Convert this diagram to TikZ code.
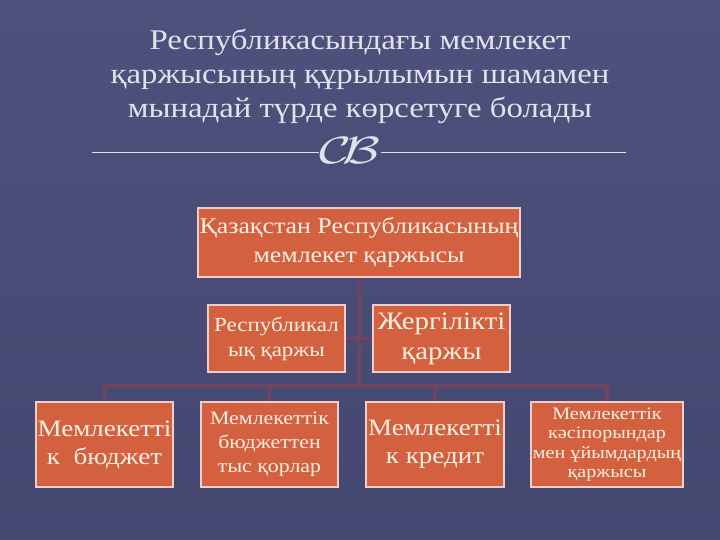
\documentclass[tikz,border=0pt]{standalone}
\usepackage{fontspec}
\setmainfont{Liberation Serif}[FakeStretch=1.15]
\pgfdeclarelayer{bg}
\pgfsetlayers{bg,main}
\definecolor{bgtop}{HTML}{4E517C}
\definecolor{bgbot}{HTML}{444770}
\definecolor{boxfill}{HTML}{D3613F}
\definecolor{boxline}{HTML}{EFCFCB}
\definecolor{boxtext}{HTML}{FBF0E2}
\definecolor{titlecol}{HTML}{E2E2EA}
\definecolor{conncol}{HTML}{6E4461}
\tikzset{
  orgbox/.style={rectangle, draw=boxline, line width=1.6pt, fill=boxfill, text=boxtext, align=center, inner sep=0pt},
  conn/.style={draw=conncol, line width=3.5pt},
}
\begin{document}
\begin{tikzpicture}[x=1pt,y=-1pt]
\begin{pgfonlayer}{bg}
\shade[top color=bgtop, bottom color=bgbot] (0,0) rectangle (720,540);
\end{pgfonlayer}
\useasboundingbox (0,0) rectangle (720,540);
% title
\node[text=titlecol, align=center, font=\fontsize{28.5}{34}\selectfont] (title) at (360,76)
  {Республикасындағы мемлекет\\қаржысының құрылымын шамамен\\мынадай түрде көрсетуге болады};
\node[text=titlecol, inner sep=0pt] (orn) at (350,151) {\scalebox{5.5}[3.8]{$\mathcal{C}\mkern-3mu\mathcal{B}$}};
\coordinate (l1) at (92,152);
\coordinate (l2) at (626,152);
\draw[titlecol, line width=0.8pt] (l1) -- (l1 -| orn.west);
\draw[titlecol, line width=0.8pt] (l2 -| orn.east) -- (l2);
% boxes
\node[orgbox, minimum width=322, minimum height=69, font=\fontsize{22.5}{29}\selectfont] (top) at (359,242.5)
  {Қазақстан Республикасының\\мемлекет қаржысы};
\node[orgbox, minimum width=137, minimum height=67, font=\fontsize{20}{25}\selectfont] (ml) at (276.5,338.5)
  {Республикал\\ық қаржы};
\node[orgbox, minimum width=137, minimum height=67, font=\fontsize{25}{30}\selectfont] (mr) at (441.5,338.5)
  {Жергілікті\\қаржы};
\node[orgbox, minimum width=137, minimum height=85, font=\fontsize{23.5}{28}\selectfont] (b1) at (104.5,444.5)
  {Мемлекетті\\к~~бюджет};
\node[orgbox, minimum width=137, minimum height=85, font=\fontsize{19}{24}\selectfont] (b2) at (269.5,444.5)
  {Мемлекеттік\\бюджеттен\\тыс қорлар};
\node[orgbox, minimum width=138, minimum height=85, font=\fontsize{23.5}{28}\selectfont] (b3) at (435,444.5)
  {Мемлекетті\\к кредит};
\node[orgbox, minimum width=152, minimum height=85, font=\fontsize{17.5}{19.5}\selectfont] (b4) at (607,444.5)
  {Мемлекеттік\\кәсіпорындар\\мен ұйымдардың\\қаржысы};
% connectors
\coordinate (bar) at (360,386);
\begin{pgfonlayer}{bg}
\draw[conn] (top.south) -- (top.south |- bar);
\draw[conn] (b1.north) -- (b1.north |- bar) -- (b4.north |- bar) -- (b4.north);
\draw[conn] (b2.north) -- (b2.north |- bar);
\draw[conn] (b3.north) -- (b3.north |- bar);
\draw[conn] (ml.east) -- (ml.east -| top.south);
\draw[conn] (mr.west) -- (mr.west -| top.south);
\end{pgfonlayer}
\end{tikzpicture}
\end{document}
